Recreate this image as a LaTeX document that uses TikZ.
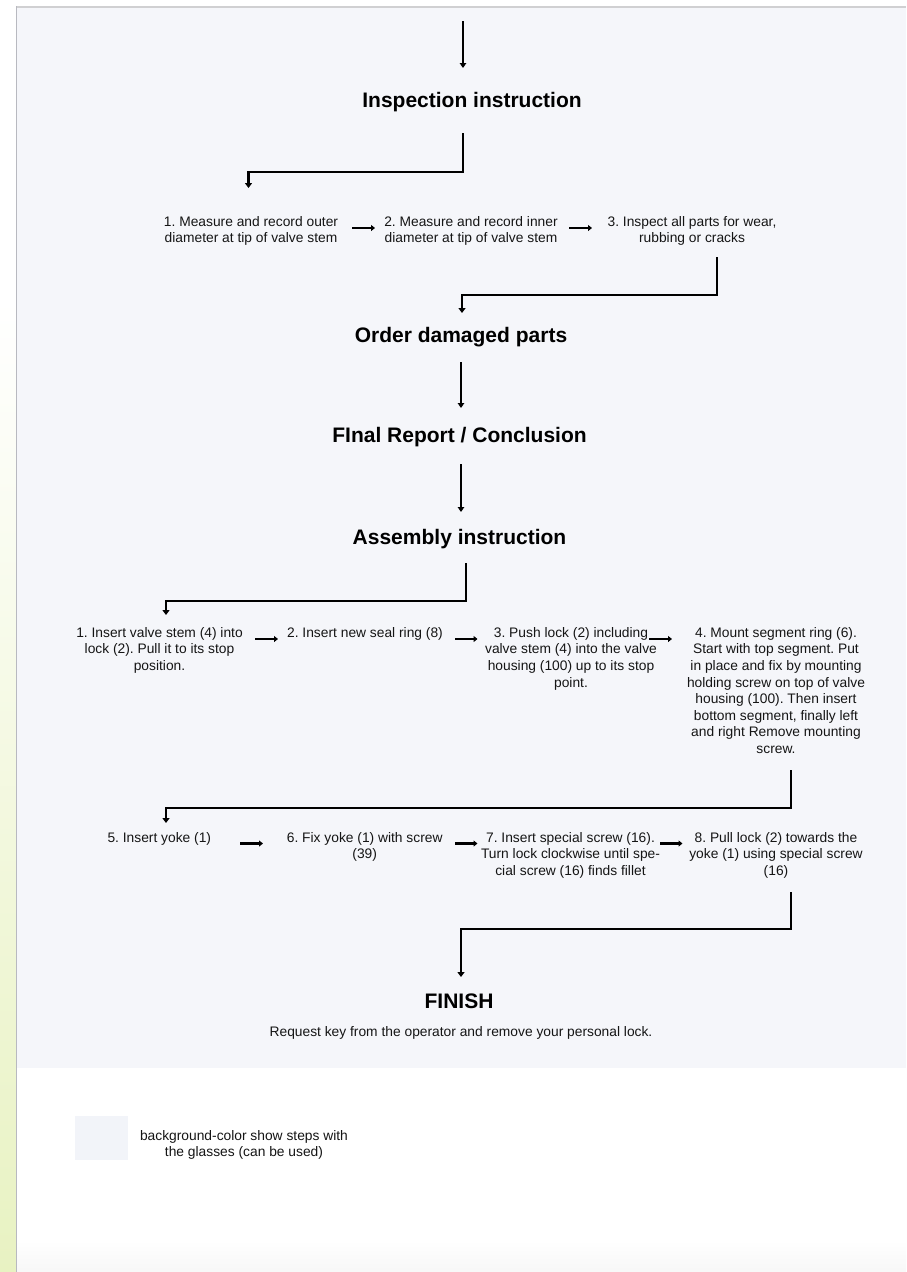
\documentclass[tikz,border=0pt]{standalone}
\usepackage{fontspec}
\setmainfont{Liberation Sans}
\usetikzlibrary{arrows.meta}
\frenchspacing
\definecolor{panel}{HTML}{F5F6FA}
\definecolor{swatch}{HTML}{F2F4F9}
\definecolor{strip}{HTML}{E8F2C2}
\definecolor{rule}{HTML}{B8B9C0}
\definecolor{topline}{HTML}{D0D0D2}
\definecolor{ink}{HTML}{151515}
% fixed first-line height so every text block hangs from the same top
\newcommand{\firstline}{\rule{0pt}{12pt}}
\newcommand{\headline}{\rule{0pt}{18pt}}
\begin{document}
\begin{tikzpicture}[x=1pt,y=-1pt,
  heading/.style={font=\fontsize{21}{25}\selectfont\bfseries, inner sep=0pt, anchor=north, text=black},
  stepbox/.style={font=\fontsize{13.8}{16.6}\selectfont, align=center, inner sep=0pt, anchor=north, text=ink},
  link/.style={line width=2pt, -{Triangle[length=5pt,width=6.5pt]}},
  elbow/.style={line width=2.4pt, -{Triangle[length=5pt,width=7pt]}},
  next/.style={line width=2.6pt, -{Triangle[length=4pt,width=6pt]}},
]
\useasboundingbox (0,0) rectangle (906,1272);
% page background, side strip and panel
\fill[white] (0,0) rectangle (906,1272);
\shade[top color=white,bottom color=strip] (0,300) rectangle (16,1272);
\fill[panel] (16,8) rectangle (906,1068);
\shade[top color=white,bottom color=black!3] (16,1240) rectangle (906,1272);
\fill[topline] (16,6) rectangle (906,8);
\draw[rule, line width=1pt] (16,6) -- (16,1272);

% headings (placed 18pt above their baselines)
\node[heading] (insp) at (472,89) {\headline Inspection instruction};
\node[heading] (order) at (461,324) {\headline Order damaged parts};
\node[heading] (final) at (459.5,424) {\headline FInal Report / Conclusion};
\node[heading] (assy) at (459.5,526) {\headline Assembly instruction};
\node[heading] (finish) at (459,990) {\headline FINISH};
\node[stepbox] (request) at (461,1024) {\firstline Request key from the operator and remove your personal lock.};

% inspection steps (placed 12pt above the first baseline)
\node[stepbox] (i1) at (251,214) {\firstline 1. Measure and record outer\\diameter at tip of valve stem};
\node[stepbox] (i2) at (471,214) {\firstline 2. Measure and record inner\\diameter at tip of valve stem};
\node[stepbox] (i3) at (692,214) {\firstline 3. Inspect all parts for wear,\\rubbing or cracks};

% assembly steps, first row
\node[stepbox] (a1) at (159.5,625) {\firstline 1. Insert valve stem (4) into\\lock (2). Pull it to its stop\\position.};
\node[stepbox] (a2) at (365,625) {\firstline 2. Insert new seal ring (8)};
\node[stepbox] (a3) at (571,625) {\firstline 3. Push lock (2) including\\valve stem (4) into the valve\\housing (100) up to its stop\\point.};
\node[stepbox] (a4) at (776,625) {\firstline 4. Mount segment ring (6).\\Start with top segment. Put\\in place and fix by mounting\\holding screw on top of valve\\housing (100). Then insert\\bottom segment, finally left\\and right Remove mounting\\screw.};

% assembly steps, second row
\node[stepbox] (a5) at (159.3,830) {\firstline 5. Insert yoke (1)};
\node[stepbox] (a6) at (364.7,830) {\firstline 6. Fix yoke (1) with screw\\(39)};
\node[stepbox] (a7) at (570.5,830) {\firstline 7. Insert special screw (16).\\Turn lock clockwise until spe-\\cial screw (16) finds fillet};
\node[stepbox] (a8) at (776,830) {\firstline 8. Pull lock (2) towards the\\yoke (1) using special screw\\(16)};

% legend
\fill[swatch] (75,1116) rectangle (128,1160);
\node[stepbox] (legend) at (244,1128) {\firstline background-color show steps with\\the glasses (can be used)};

% connector end points
\coordinate (top) at (463,21);
\coordinate (inspIn) at (463,68);
\coordinate (inspOut) at (463,133);
\coordinate (i1In) at (248.5,188);
\coordinate (i1Bend) at (248.5,172);
\coordinate (i3Out) at (717,257);
\coordinate (orderBend) at (462,295);
\coordinate (orderIn) at (462,313);
\coordinate (orderOut) at (461,362);
\coordinate (finalIn) at (461,408);
\coordinate (finalOut) at (461,464);
\coordinate (assyIn) at (461,512);
\coordinate (assyOut) at (466,563);
\coordinate (a1Bend) at (166,601);
\coordinate (a1In) at (166,615);
\coordinate (a4Out) at (791,770);
\coordinate (a5Bend) at (166,808);
\coordinate (a5In) at (166,823);
\coordinate (a8Out) at (791,892);
\coordinate (finBend) at (461,929);
\coordinate (finIn) at (461,977);

% vertical flow
\draw[link] (top) -- (inspIn);
\draw[elbow] (inspOut) |- (i1Bend) -- (i1In);
\draw[elbow] (i3Out) |- (orderBend) -- (orderIn);
\draw[link] (orderOut) -- (finalIn);
\draw[link] (finalOut) -- (assyIn);
\draw[elbow] (assyOut) |- (a1Bend) -- (a1In);
\draw[elbow] (a4Out) |- (a5Bend) -- (a5In);
\draw[elbow] (a8Out) |- (finBend) -- (finIn);

% arrows between neighbouring steps
\draw[next] (352,228) coordinate (i12s) -- (375,228) coordinate (i12e);
\draw[next] (569,228) coordinate (i23s) -- (592,228) coordinate (i23e);
\draw[next] (255,639) coordinate (a12s) -- (278,639) coordinate (a12e);
\draw[next] (455,639) coordinate (a23s) -- (477.5,639) coordinate (a23e);
\draw[next] (649,639) coordinate (a34s) -- (672,639) coordinate (a34e);
\draw[next] (240,843.5) coordinate (a56s) -- (263,843.5) coordinate (a56e);
\draw[next] (455,843.5) coordinate (a67s) -- (477.5,843.5) coordinate (a67e);
\draw[next] (660,843.5) coordinate (a78s) -- (682.5,843.5) coordinate (a78e);
\end{tikzpicture}
\end{document}
